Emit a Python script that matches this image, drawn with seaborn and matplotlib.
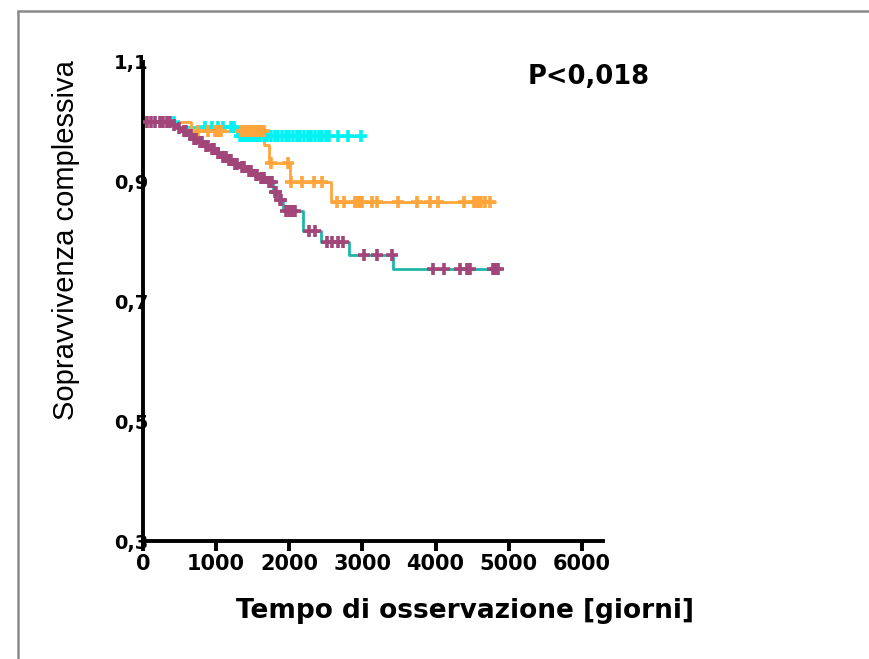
import numpy as np
import pandas as pd
import matplotlib
matplotlib.use("Agg")
import matplotlib.pyplot as plt
import seaborn as sns
from matplotlib.patches import Rectangle

sns.set_theme(style="white")
plt.rcParams['font.family'] = ['DejaVu Sans']
plt.rcParams['text.color'] = 'black'
plt.rcParams['xtick.color'] = 'black'
plt.rcParams['ytick.color'] = 'black'

# ---------------- data ----------------
# group A (cyan)
cyan_times = [0, 480, 1290]
cyan_surv = [1.0, 0.992, 0.977]
cyan_end = 3020
cyan_cens = [430, 850, 940, 1020, 1100, 1200, 1250, 1320, 1360, 1400, 1440, 1480,
             1520, 1560, 1600, 1650, 1700, 1750, 1800, 1850, 1900, 1950, 2000,
             2050, 2100, 2150, 2200, 2250, 2300, 2350, 2400, 2450, 2500, 2550,
             2660, 2800, 2975]

# group B (orange)
orange_times = [0, 660, 1660, 1720, 2005, 2565]
orange_surv = [1.0, 0.984, 0.962, 0.931, 0.899, 0.866]
orange_end = 4815
orange_cens = [750, 890, 980, 1020, 1060, 1340, 1380, 1420, 1460, 1500, 1540, 1580,
               1620, 1650, 1750, 1980, 2020, 2180, 2335, 2450, 2655, 2745, 2900,
               2930, 2960, 2990, 3135, 3200, 3485, 3750, 3930, 4040, 4385, 4520,
               4550, 4590, 4620, 4680, 4750]

# group C (teal line, purple censor marks)
purple_times = [0, 400, 470, 540, 610, 680, 750, 830, 910, 990, 1070, 1150, 1240,
                1330, 1420, 1510, 1600, 1700, 1780, 1850, 1910, 2190, 2440, 2815, 3420]
purple_surv = [1.0, 0.995, 0.99, 0.984, 0.978, 0.972, 0.966, 0.96, 0.954, 0.948,
               0.942, 0.936, 0.93, 0.924, 0.918, 0.912, 0.906, 0.9, 0.883, 0.869,
               0.851, 0.817, 0.799, 0.777, 0.755]
purple_end = 4880
purple_cens = [60, 110, 160, 230, 280, 330, 370, 430, 490, 560, 590, 650, 700, 720,
               780, 800, 860, 890, 950, 970, 1020, 1100, 1130, 1180, 1200, 1260,
               1290, 1350, 1380, 1450, 1480, 1540, 1560, 1620, 1640, 1660, 1720,
               1740, 1760, 1800, 1820, 1870, 1890, 1950, 1990, 2040, 2080, 2270,
               2350, 2520, 2580, 2660, 2730, 3020, 3200, 3400, 3960, 4110, 4340,
               4430, 4470, 4780, 4820, 4850]

x_ticks = [0, 1000, 2000, 3000, 4000, 5000, 6000]
y_ticks = [0.3, 0.5, 0.7, 0.9, 1.1]
y_tick_labels = ["0,3", "0,5", "0,7", "0,9", "1,1"]

C_CYAN = "#00F2F2"
C_ORANGE = "#FFA53C"
C_TEAL = "#1DB7A8"
C_PURPLE = "#A2467A"


def step_frame(times, surv, end):
    t = list(times) + [end]
    s = list(surv) + [surv[-1]]
    return pd.DataFrame({"t": t, "s": s})


def cens_frame(times, surv, cens):
    t = np.asarray(times, float)
    s = np.asarray(surv, float)
    c = np.asarray(cens, float)
    idx = np.searchsorted(t, c, side="right") - 1
    return pd.DataFrame({"t": c, "s": s[idx]})


fig = plt.figure(figsize=(8.69, 6.59), dpi=100)
ax = fig.add_axes([143 / 869, 1 - 541 / 659, 460 / 869, 479 / 659])

groups = [
    (cyan_times, cyan_surv, cyan_end, cyan_cens, C_CYAN, C_CYAN),
    (orange_times, orange_surv, orange_end, orange_cens, C_ORANGE, C_ORANGE),
    (purple_times, purple_surv, purple_end, purple_cens, C_TEAL, C_PURPLE),
]
for times, surv, end, cens, lc, mc in groups:
    sf = step_frame(times, surv, end)
    sns.lineplot(data=sf, x="t", y="s", ax=ax, color=lc, linewidth=2.0,
                 drawstyle="steps-post", estimator=None, sort=False)
    cf = cens_frame(times, surv, cens)
    sns.scatterplot(data=cf, x="t", y="s", ax=ax, color=mc, marker="+",
                    s=85, linewidth=2.6, zorder=3)

ax.set_xlim(0, 6290)
ax.set_ylim(0.3, 1.1)
ax.set_xticks(x_ticks)
ax.set_xticklabels([str(v) for v in x_ticks], fontsize=15, fontweight="bold")
ax.set_yticks(y_ticks)
ax.set_yticklabels(y_tick_labels, fontsize=14, fontweight="bold")
ax.tick_params(axis="x", direction="out", length=7, width=2.8, color="black",
               labelcolor="black", pad=2, bottom=True)
ax.tick_params(axis="y", length=0, pad=-4, left=False, labelcolor="black")
for lbl in ax.get_yticklabels():
    lbl.set_zorder(5)

sns.despine(ax=ax)
for side in ["left", "bottom"]:
    ax.spines[side].set_color("black")
    ax.spines[side].set_linewidth(2.8)
ax.set_xlabel("")
ax.set_ylabel("")
ax.patch.set_alpha(0)

fig.text(465 / 869, 1 - 611 / 659, "Tempo di osservazione [giorni]",
         fontsize=19, fontweight="bold", ha="center", va="center", color="black")
fig.text(66 / 869, 1 - 240 / 659, "Sopravvivenza complessiva",
         fontsize=21, family="Liberation Sans", rotation=90,
         ha="center", va="center", color="black")
fig.text(589 / 869, 1 - 77 / 659, "P<0,018", fontsize=18.5,
         fontweight="bold", ha="center", va="center", color="black")

fig.patches.append(Rectangle((18 / 869, -0.1), 1.2, 1 - 11 / 659 + 0.1,
                             transform=fig.transFigure, fill=False,
                             edgecolor="#8a8a8a", linewidth=1.8))

fig.savefig("out.png", dpi=100)
